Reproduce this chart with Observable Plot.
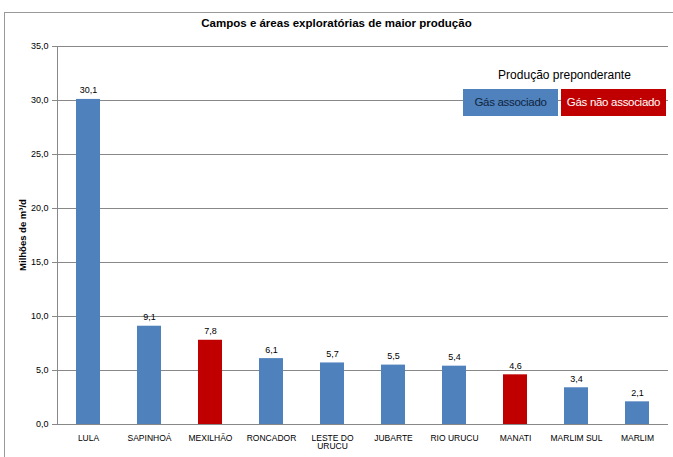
<!DOCTYPE html>
<html><head><meta charset="utf-8">
<script src="https://cdn.jsdelivr.net/npm/d3@7"></script>
<script src="https://cdn.jsdelivr.net/npm/@observablehq/plot@0.6"></script>
<style>
  body { margin:0; font-family:"Liberation Sans",sans-serif; background:#fff; }
  #wrap { position:relative; width:673px; height:457px; overflow:hidden; }
  #frame { position:absolute; left:4px; top:12px; width:700px; height:460px; border:1px solid #999; }
  #title { position:absolute; top:17px; left:0; width:673px; text-align:center; font-weight:bold; font-size:11.5px; }
  #ylab { position:absolute; left:22px; top:235px; transform:translate(-50%,-50%) rotate(-90deg); font-weight:bold; font-size:9.5px; white-space:nowrap; }
  #chart { position:absolute; top:36px; left:0; }
  .lg { position:absolute; font-size:12px; white-space:nowrap; }
  .box { position:absolute; top:89px; height:27px; line-height:27px; text-align:center; font-size:11.5px; white-space:nowrap; letter-spacing:-0.3px; }
</style></head>
<body><div id="wrap">
<div id="frame"></div>
<div id="title">Campos e áreas exploratórias de maior produção</div>
<div id="chart"></div>
<div id="ylab">Milhões de m³/d</div>
<div class="lg" style="left:463px;width:203px;top:68px;text-align:center">Produção preponderante</div>
<div class="box" style="left:463px;width:95px;background:#4f81bd;color:#10253f">Gás associado</div>
<div class="box" style="left:561px;width:105px;background:#c00000;color:#fff">Gás não associado</div>
</div>
<script>
const campos = ["LULA","SAPINHOÁ","MEXILHÃO","RONCADOR","LESTE DO\nURUCU","JUBARTE","RIO URUCU","MANATI","MARLIM SUL","MARLIM"];
const valores = [30.1, 9.1, 7.8, 6.1, 5.7, 5.5, 5.4, 4.6, 3.4, 2.1];
const tipos = ["a","a","n","a","a","a","a","n","a","a"];
const yTicks = [0,5,10,15,20,25,30,35];

const data = campos.map((c,i) => ({campo:c, valor:valores[i], tipo:tipos[i]}));
const fmt = v => v.toFixed(1).replace(".", ",");

const chart = Plot.plot({
  width: 673, height: 421,
  marginTop: 10, marginBottom: 33, marginLeft: 57, marginRight: 5,
  style: { fontFamily: "'Liberation Sans',sans-serif", fontSize: "9px", color: "#000" },
  x: { domain: campos, paddingInner: 0.6, paddingOuter: 0.3, label: null },
  y: { domain: [0,35], ticks: yTicks, tickFormat: fmt, label: null, tickSize: 5 },
  color: { domain: ["a","n"], range: ["#4f81bd","#c00000"] },
  marks: [
    Plot.gridY(yTicks, { stroke: "#888", strokeOpacity: 1 }),
    Plot.barY(data, { x: "campo", y: "valor", fill: "tipo" }),
    Plot.text(data, { x: "campo", y: "valor", text: d => fmt(d.valor), dy: -9, fontSize: 9 }),
    Plot.ruleY([0], { stroke: "#888" }),
    Plot.frame({ anchor: "left", stroke: "#888" }),
    Plot.axisY({ ticks: yTicks, tickFormat: fmt, tickSize: 5, stroke: "#888", fontSize: 9 }),
    Plot.axisX({ tickSize: 0, fontSize: 8.5, tickPadding: 10 })
  ]
});
document.getElementById("chart").appendChild(chart);
</script>
</body></html>
